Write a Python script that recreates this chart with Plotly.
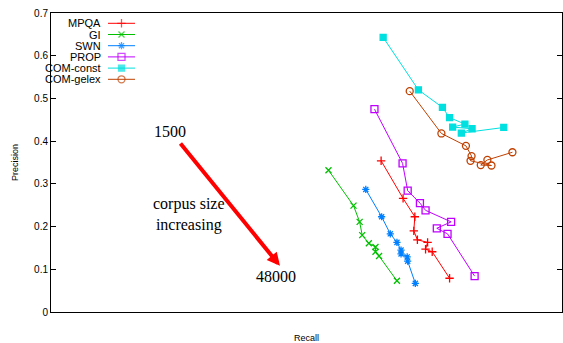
import plotly.graph_objects as go

# ---- data (recall on a 0..1 scale, precision) ----
mpqa_recall = [0.646, 0.689, 0.712, 0.710, 0.717, 0.737, 0.733, 0.746, 0.780]
mpqa_prec = [0.354, 0.266, 0.223, 0.190, 0.169, 0.163, 0.147, 0.141, 0.079]

gi_recall = [0.543, 0.592, 0.604, 0.609, 0.622, 0.635, 0.635, 0.642, 0.677]
gi_prec = [0.332, 0.249, 0.211, 0.180, 0.161, 0.152, 0.141, 0.131, 0.073]

swn_recall = [0.616, 0.647, 0.664, 0.677, 0.685, 0.685, 0.697, 0.698, 0.713]
swn_prec = [0.287, 0.223, 0.183, 0.163, 0.145, 0.136, 0.129, 0.119, 0.067]

prop_recall = [0.633, 0.688, 0.698, 0.722, 0.733, 0.783, 0.755, 0.776, 0.829]
prop_prec = [0.475, 0.348, 0.284, 0.255, 0.238, 0.211, 0.196, 0.183, 0.084]

const_recall = [0.650, 0.719, 0.766, 0.780, 0.810, 0.786, 0.824, 0.803, 0.886]
const_prec = [0.643, 0.520, 0.479, 0.455, 0.440, 0.433, 0.429, 0.419, 0.432]

gelex_recall = [0.702, 0.764, 0.812, 0.823, 0.821, 0.862, 0.841, 0.854, 0.903]
gelex_prec = [0.517, 0.418, 0.389, 0.365, 0.354, 0.343, 0.344, 0.356, 0.374]

series_names = ["MPQA", "GI", "SWN", "PROP", "COM-const", "COM-gelex"]
y_ticks = [0, 0.1, 0.2, 0.3, 0.4, 0.5, 0.6, 0.7]

# annotation (corpus size arrow)
arrow_from = (0.251, 0.398)
arrow_to = (0.448, 0.108)
label_start = ("1500", 0.233, 0.422)
label_end = ("48000", 0.440, 0.084)
label_mid = ("corpus size<br>increasing", 0.271, 0.228)

styles = [
    dict(color="#ff0000", symbol="cross-thin-open", size=6),
    dict(color="#00c000", symbol="x-thin-open", size=6),
    dict(color="#0080ff", symbol="asterisk-open", size=6),
    dict(color="#c000ff", symbol="square-open", size=7),
    dict(color="#00e0e0", symbol="square", size=6),
    dict(color="#c04000", symbol="circle-open", size=7),
]
xs = [mpqa_recall, gi_recall, swn_recall, prop_recall, const_recall, gelex_recall]
ys = [mpqa_prec, gi_prec, swn_prec, prop_prec, const_prec, gelex_prec]

fig = go.Figure()
for name, x, y, st in zip(series_names, xs, ys, styles):
    fig.add_trace(go.Scatter(
        x=x, y=y, name=name, mode="lines+markers", showlegend=False,
        line=dict(color=st["color"], width=1),
        marker=dict(symbol=st["symbol"], size=st["size"], color=st["color"],
                    line=dict(color=st["color"], width=1.3)),
    ))

# ---- gnuplot-style key (text left of sample) on a pixel overlay axis ----
key_top, key_step = 23.3, 11.2
key_text_right, key_line_l, key_line_r = 103, 108, 135
for i, (name, st) in enumerate(zip(series_names, styles)):
    yk = key_top + i * key_step
    xm = (key_line_l + key_line_r) / 2
    fig.add_trace(go.Scatter(
        x=[key_line_l, xm, key_line_r], y=[yk, yk, yk], xaxis="x2", yaxis="y2",
        mode="lines+markers", showlegend=False, hoverinfo="skip",
        line=dict(color=st["color"], width=1),
        marker=dict(symbol=st["symbol"], size=[0, st["size"], 0], color=st["color"],
                    line=dict(color=st["color"], width=[0, 1.3, 0])),
    ))
    fig.add_annotation(x=key_text_right, y=yk, xref="x2", yref="y2", text=name,
                       showarrow=False, xanchor="right", yanchor="middle",
                       font=dict(size=11, color="#000"))

serif = "Liberation Serif, Times New Roman, serif"
fig.add_annotation(x=arrow_to[0], y=arrow_to[1], ax=arrow_from[0], ay=arrow_from[1],
                   xref="x", yref="y", axref="x", ayref="y", text="",
                   showarrow=True, arrowhead=2, arrowsize=0.65, arrowwidth=4,
                   arrowcolor="#ff0000", standoff=0)
for txt, x, y in (label_start, label_end, label_mid):
    fig.add_annotation(x=x, y=y, xref="x", yref="y", text=txt, showarrow=False,
                       font=dict(family=serif, size=16, color="#000"))

fig.update_layout(
    width=563, height=343,
    margin=dict(l=51, r=1, t=13, b=31),
    plot_bgcolor="white", paper_bgcolor="white",
    font=dict(family="Liberation Sans, Arial, sans-serif", size=10, color="#000"),
    showlegend=False,
    xaxis2=dict(overlaying="x", range=[51, 562], visible=False, fixedrange=True),
    yaxis2=dict(overlaying="y", range=[312, 13], visible=False, fixedrange=True),
)
fig.update_xaxes(selector=dict(anchor="y"))
fig.update_layout(xaxis=dict(range=[0, 1], showline=True, mirror=True, linecolor="#000",
                             linewidth=1, showgrid=False, zeroline=False, ticks="",
                             showticklabels=False,
                             title=dict(text="Recall", font=dict(size=9), standoff=24)),
                  yaxis=dict(range=[0, 0.7], tickvals=y_ticks,
                             ticktext=[str(v) for v in y_ticks],
                             showline=True, mirror="ticks", linecolor="#000", linewidth=1,
                             showgrid=False, zeroline=False, ticks="inside", ticklen=5,
                             tickcolor="#000",
                             title=dict(text="Precision", font=dict(size=9), standoff=13)))

fig.write_html("out.html")
